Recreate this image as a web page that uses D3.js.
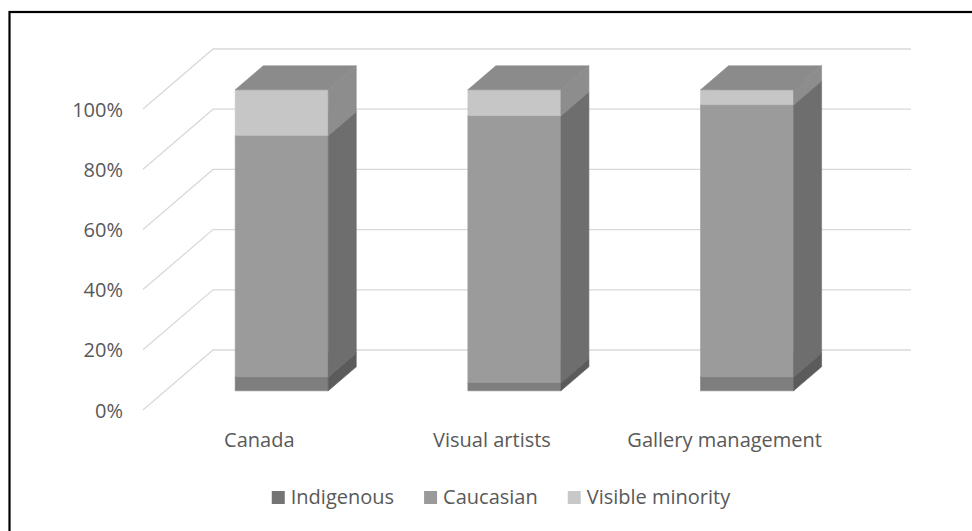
<!DOCTYPE html>
<html>
<head>
<meta charset="utf-8">
<script src="https://cdn.jsdelivr.net/npm/d3@7"></script>
<style>
  html, body { margin: 0; padding: 0; background: #fff; }
  svg { display: block; }
  text { font-family: "Open Sans", "Noto Sans", sans-serif; fill: #595959; }
</style>
</head>
<body>
<svg id="chart" width="972" height="531"></svg>
<script>
// Share of each population group (percent of total)
const categories = ["Canada", "Visual artists", "Gallery management"];
const seriesNames = ["Indigenous", "Caucasian", "Visible minority"];
const indigenous = [4.6, 2.7, 4.6];
const caucasian = [80.2, 88.7, 90.4];
const visibleMinority = [15.2, 8.6, 5.0];
const tickValues = [0, 20, 40, 60, 80, 100];
const tickLabels = ["0%", "20%", "40%", "60%", "80%", "100%"];

// Face shading for each series: front, right side, top
const shades = {
  "Indigenous":       { front: "#7e7e7e", side: "#5b5b5b", top: "#6c6c6c", key: "#747474" },
  "Caucasian":        { front: "#9b9b9b", side: "#6e6e6e", top: "#858585", key: "#9a9a9a" },
  "Visible minority": { front: "#c6c6c6", side: "#8d8d8d", top: "#8b8b8b", key: "#c8c8c8" }
};

const svg = d3.select("#chart");

// Outer frame
svg.append("rect")
  .attr("x", 9.5).attr("y", 12).attr("width", 1000).attr("height", 600)
  .attr("fill", "none").attr("stroke", "#000").attr("stroke-width", 2.2);

// Oblique 3-D projection: depth z in [0,1] shifts points up and to the right
const DX = 70, DY = -60;
const x = d3.scaleBand().domain(categories).range([143, 841]).paddingInner(0).paddingOuter(0);
const y = d3.scaleLinear().domain([0, 100]).range([410, 109]);
const P = (px, v, z) => [px + DX * z, y(v) + DY * z];
const poly = pts => "M" + pts.map(p => p.join(",")).join("L") + "Z";

// Walls: gridlines on the side wall (diagonals) and on the back wall
const grid = svg.append("g").attr("stroke", "#d9d9d9").attr("stroke-width", 1.3).attr("fill", "none");
tickValues.forEach(v => {
  const a = P(x.range()[0], v, 0), b = P(x.range()[0], v, 1), c = P(x.range()[1], v, 1);
  grid.append("path").attr("d", `M${a}L${b}L${c}`);
});

// Value axis labels on the front plane
const axis = d3.axisLeft(y).tickValues(tickValues)
  .tickFormat((d, i) => tickLabels[i]).tickSize(0).tickPadding(0);
const axisG = svg.append("g").attr("transform", "translate(123,0)").call(axis);
axisG.select(".domain").remove();
axisG.selectAll("text")
  .attr("font-family", null).attr("font-size", null)
  .style("font-size", "20px").attr("dy", "0.35em");

// Stacked 3-D columns
const rows = categories.map((c, i) => ({
  category: c,
  "Indigenous": indigenous[i],
  "Caucasian": caucasian[i],
  "Visible minority": visibleMinority[i]
}));
const stacked = d3.stack().keys(seriesNames)(rows);

const zf = 0.32, zb = 0.72;
const barW = x.bandwidth() / 2.5;
const bars = svg.append("g").attr("stroke-width", 0.6).attr("stroke-linejoin", "round");
stacked.forEach(layer => {
  const s = shades[layer.key];
  layer.forEach(seg => {
    const cat = seg.data.category;
    const xl = x(cat) + (x.bandwidth() - barW) / 2, xr = xl + barW;
    const v0 = seg[0], v1 = seg[1];
    bars.append("path").attr("fill", s.front).attr("stroke", s.front)
      .attr("d", poly([P(xl, v0, zf), P(xr, v0, zf), P(xr, v1, zf), P(xl, v1, zf)]));
    bars.append("path").attr("fill", s.side).attr("stroke", s.side)
      .attr("d", poly([P(xr, v0, zf), P(xr, v0, zb), P(xr, v1, zb), P(xr, v1, zf)]));
    bars.append("path").attr("fill", s.top).attr("stroke", s.top)
      .attr("d", poly([P(xl, v1, zf), P(xr, v1, zf), P(xr, v1, zb), P(xl, v1, zb)]));
  });
});

// Category labels
svg.append("g").selectAll("text").data(categories).join("text")
  .attr("x", d => x(d) + x.bandwidth() / 2)
  .attr("y", 447)
  .attr("text-anchor", "middle")
  .style("font-size", "20px")
  .text(d => d);

// Legend
const legend = svg.append("g");
const items = legend.selectAll("g").data(seriesNames).join("g");
items.append("rect").attr("width", 13).attr("height", 13).attr("y", 491)
  .attr("fill", d => shades[d].key);
items.append("text").attr("x", 19).attr("y", 504).style("font-size", "20px").text(d => d);
let widths = [];
items.each(function() { widths.push(19 + d3.select(this).select("text").node().getComputedTextLength()); });
const gap = 30;
const total = d3.sum(widths) + gap * (widths.length - 1);
let cx = 501 - total / 2;
items.attr("transform", (d, i) => {
  const t = `translate(${cx},0)`;
  cx += widths[i] + gap;
  return t;
});
</script>
</body>
</html>
